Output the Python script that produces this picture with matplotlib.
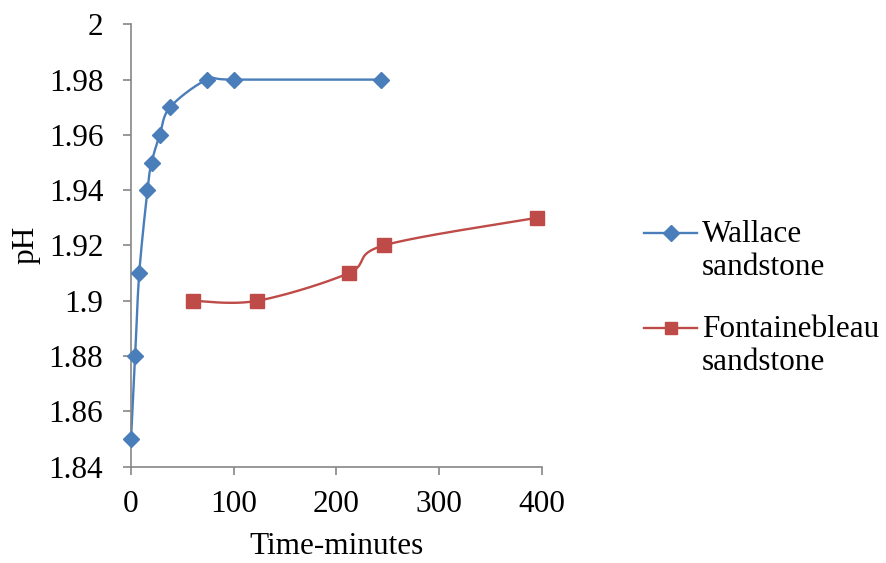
import numpy as np
import matplotlib
matplotlib.use("Agg")
import matplotlib.pyplot as plt
from matplotlib.lines import Line2D

# Series data
wallace_t = [0, 4, 8, 16, 20, 28, 38, 74, 100, 243]
wallace_ph = [1.85, 1.88, 1.91, 1.94, 1.95, 1.96, 1.97, 1.98, 1.98, 1.98]
fontaine_t = [60, 123, 212, 246, 395]
fontaine_ph = [1.90, 1.90, 1.91, 1.92, 1.93]

x_ticks = [0, 100, 200, 300, 400]
y_ticks = [1.84, 1.86, 1.88, 1.90, 1.92, 1.94, 1.96, 1.98, 2.00]
y_tick_labels = ["1.84", "1.86", "1.88", "1.9", "1.92", "1.94", "1.96", "1.98", "2"]

series_names = ["Wallace\nsandstone", "Fontainebleau\nsandstone"]

BLUE = "#4A7EBB"
RED = "#BE4B48"
GRAY = "#868686"
FS = 22.5

plt.rcParams["font.family"] = ["Liberation Serif", "DejaVu Serif"]


def smooth(ax, xs, ys, n=40):
    """Bezier smoothing through points (Catmull-Rom style tangents), computed in display space."""
    pts = ax.transData.transform(np.column_stack([xs, ys]))
    m = len(pts)
    out = [pts[0]]
    for i in range(m - 1):
        p0 = pts[max(i - 1, 0)]
        p1 = pts[i]
        p2 = pts[i + 1]
        p3 = pts[min(i + 2, m - 1)]
        c1 = p1 + (p2 - p0) / 6.0
        c2 = p2 - (p3 - p1) / 6.0
        t = np.linspace(0, 1, n)[1:, None]
        seg = ((1 - t) ** 3) * p1 + 3 * ((1 - t) ** 2) * t * c1 + 3 * (1 - t) * t ** 2 * c2 + t ** 3 * p2
        out.extend(seg)
    out = np.array(out)
    return ax.transData.inverted().transform(out).T


fig = plt.figure(figsize=(8.86, 5.63), dpi=100)
ax = fig.add_axes([0.1479, 0.1711, 0.4635, 0.7857])
ax.set_xlim(0, 400)
ax.set_ylim(1.84, 2.0)

styles = [(BLUE, "D", 8.5), (RED, "s", 10)]
for (xs, ys), (col, mk, ms) in zip([(wallace_t, wallace_ph), (fontaine_t, fontaine_ph)], styles):
    sx, sy = smooth(ax, xs, ys)
    ax.plot(sx, sy, color=col, lw=1.7, zorder=2, clip_on=False)
    ax.plot(xs, ys, linestyle="none", marker=mk, ms=ms, color=col, zorder=3, clip_on=False)

ax.set_xticks(x_ticks)
ax.set_yticks(y_ticks)
ax.set_yticklabels(y_tick_labels)
ax.tick_params(axis="both", direction="out", length=6, width=1.2, color=GRAY,
               labelsize=FS)
ax.tick_params(axis="y", pad=14)
ax.tick_params(axis="x", pad=11)
for side in ["top", "right"]:
    ax.spines[side].set_visible(False)
for side in ["left", "bottom"]:
    ax.spines[side].set_color(GRAY)
    ax.spines[side].set_linewidth(1.2)

ax.set_xlabel("Time-minutes", fontsize=FS, labelpad=9)
fig.text(26 / 886, 1 - 245 / 563, "pH", rotation=90, fontsize=FS, ha="center", va="center")

# Legend: handle aligned with the first line of each entry
legend_rows = [1 - 233 / 563, 1 - 328 / 563]
for name, (col, mk, ms), yy in zip(series_names, styles, legend_rows):
    fig.add_artist(Line2D([644 / 886, 697 / 886], [yy, yy], color=col, lw=1.7,
                          transform=fig.transFigure))
    fig.add_artist(Line2D([670.5 / 886], [yy], color=col, marker=mk, ms=ms * 0.9,
                          transform=fig.transFigure))
    fig.text(702 / 886, yy + 13 / 563, name, fontsize=FS, ha="left", va="top",
             linespacing=1.2, transform=fig.transFigure)

fig.savefig("out.png", dpi=100)
